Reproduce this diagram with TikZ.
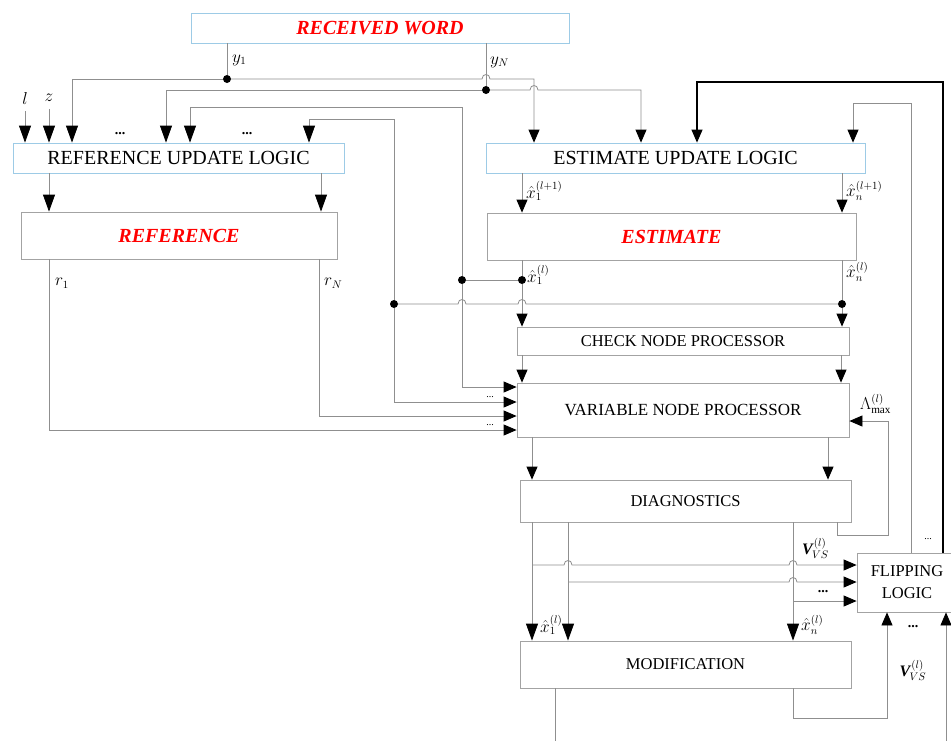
\documentclass[tikz,border=0pt]{standalone}
\usepackage{fontspec}
\setmainfont{Liberation Serif}
\usepackage{tikz}
\usetikzlibrary{arrows.meta, positioning}
\definecolor{wire}{HTML}{8F8F8F}
\definecolor{frame}{HTML}{A3A3A3}
\definecolor{frameblue}{HTML}{9DCBE6}
\definecolor{title}{HTML}{FF0000}
\tikzset{
  blk/.style={rectangle, draw=frame, line width=0.8pt, inner sep=0pt, align=center, font=\fontsize{16.5}{19}\selectfont},
  blublk/.style={blk, draw=frameblue, font=\fontsize{20}{24}\selectfont},
  ttl/.style={font=\fontsize{20}{24}\selectfont\bfseries\itshape, text=title},
  lbl/.style={font=\fontsize{16}{18}\selectfont, inner sep=1pt},
  wr/.style={draw=wire, line width=0.8pt},
  arr/.style={wr, -{Triangle[length=13pt, width=11pt, color=black]}},
  arrl/.style={wr, -{Triangle[length=17pt, width=12pt, color=black]}},
  jn/.style={circle, fill=black, inner sep=0pt, minimum size=8pt},
  dd/.style={font=\fontsize{10}{12}\selectfont, inner sep=0pt},
  bdd/.style={font=\fontsize{14}{14}\selectfont\bfseries, inner sep=0pt},
}

\begin{document}
\begin{tikzpicture}[x=1pt, y=-1pt]
\useasboundingbox (0,0) rectangle (951,740);

% blocks
\node[blublk, ttl, minimum width=378pt, minimum height=30pt] (rw) at (380,28) {RECEIVED WORD};
\node[blublk, minimum width=331pt, minimum height=30pt] (rul) at (178.5,158) {REFERENCE UPDATE LOGIC};
\node[blublk, minimum width=379pt, minimum height=30pt] (eul) at (675.5,158) {ESTIMATE UPDATE LOGIC};
\node[blk, ttl, minimum width=316pt, minimum height=47pt] (ref) at (179,235.5) {REFERENCE};
\node[blk, ttl, minimum width=369pt, minimum height=47pt] (est) at (671.5,236.5) {ESTIMATE};
\node[blk, minimum width=332pt, minimum height=28pt] (cnp) at (683,341) {CHECK NODE PROCESSOR};
\node[blk, font=\fontsize{17}{20}\selectfont, minimum width=332pt, minimum height=54pt] (vnp) at (683,410) {VARIABLE NODE PROCESSOR};
\node[blk, minimum width=331pt, minimum height=42pt] (diag) at (685.5,501) {DIAGNOSTICS};
\node[blk, minimum width=331pt, minimum height=47pt] (mod) at (685.5,664.5) {MODIFICATION};
\node[blk, font=\fontsize{16.5}{22}\selectfont, minimum width=100pt, minimum height=59pt] (flip) at (907,582.5) {FLIPPING\\LOGIC};

% received word
\node[jn] (j1) at (227,79) {};
\node[jn] (j2) at (486,90) {};
\draw[wr] (rw.south -| j1) -- (j1);
\draw[wr] (rw.south -| j2) -- (j2);
\node[lbl, anchor=west] at (231,60) {$y_1$};
\node[lbl, anchor=west] at (489,62) {$y_N$};
\draw[arrl] (j1) -| (rul.north -| 72,0);
\draw[arr] (j1) -- (482,79) .. controls (482,73) and (490,73) .. (490,79) -| (eul.north -| 534,0);
\draw[arrl] (j2) -| (rul.north -| 166,0);
\draw[arr] (j2) -- (530,90) .. controls (530,84) and (538,84) .. (538,90) -| (eul.north -| 641,0);

% reference update logic
\node[lbl] (lin) at (25,98) {$l$};
\node[lbl] (zin) at (49,98) {$z$};
\draw[arrl] (lin.south) ++(0,6) -- (rul.north -| lin);
\draw[arrl] (zin.south) ++(0,6) -- (rul.north -| zin);
\node[bdd] at (120,134) {...};
\node[bdd] at (247,134) {...};
\draw[arrl] (rul.south -| 49,0) -- (ref.north -| 49,0);
\draw[arrl] (rul.south -| 321,0) -- (ref.north -| 321,0);
\node[lbl, anchor=west] at (54,283) {$r_1$};
\node[lbl, anchor=west] at (323,283) {$r_N$};
\draw[arr] (ref.south -| 49,0) |- (vnp.west |- 0,430);
\draw[arr] (ref.south -| 319,0) |- (vnp.west |- 0,416);

% estimate
\draw[arr] (eul.south -| 522,0) -- (est.north -| 522,0);
\draw[arr] (eul.south -| 842,0) -- (est.north -| 842,0);
\node[lbl, anchor=west] at (525,191) {$\hat{x}_1^{(l+1)}$};
\node[lbl, anchor=west] at (845,191) {$\hat{x}_n^{(l+1)}$};
\node[jn] (j3) at (522,280) {};
\node[jn] (j4) at (462,280) {};
\node[jn] (j5) at (842,304) {};
\node[jn] (j6) at (394,304) {};
\node[lbl, anchor=west] at (526,275) {$\hat{x}_1^{(l)}$};
\node[lbl, anchor=west] at (845,272) {$\hat{x}_n^{(l)}$};
\draw[wr] (est.south -| j3) -- (j3);
\draw[wr] (est.south -| j5) -- (j5);
\draw[wr] (j3) -- (j4);
\draw[wr] (j5) -- (526,304) .. controls (526,298) and (518,298) .. (518,304) -- (466,304) .. controls (466,298) and (458,298) .. (458,304) -- (j6);
\draw[arr] (j3) -- (cnp.north -| j3);
\draw[arr] (j5) -- (cnp.north -| j5);
\draw[arrl] (j4) |- (190,107) -- (rul.north -| 190,0);
\draw[arrl] (j6) |- (309,119) -- (rul.north -| 309,0);
\draw[arr] (j4) |- (vnp.west |- 0,387);
\draw[arr] (j6) |- (vnp.west |- 0,402);
\node[dd] at (490,397) {...};
\node[dd] at (490,425) {...};

% processors
\draw[arr] (cnp.south -| 522,0) -- (vnp.north -| 522,0);
\draw[arr] (cnp.south -| 841,0) -- (vnp.north -| 841,0);
\draw[arr] (vnp.south -| 532,0) -- (diag.north -| 532,0);
\draw[arr] (vnp.south -| 828,0) -- (diag.north -| 828,0);
\draw[arr] (diag.south -| 837,0) |- (888,535) |- (vnp.east |- 0,421);
\node[lbl, anchor=west] at (859,404) {$\Lambda_{\max}^{(l)}$};

% diagnostics
\coordinate (b1) at (532,565);
\coordinate (b2) at (568,582);
\coordinate (b3) at (793,601);
\draw[arrl] (diag.south -| b1) -- (mod.north -| b1);
\draw[arrl] (diag.south -| b2) -- (mod.north -| b2);
\draw[arrl] (diag.south -| b3) -- (mod.north -| b3);
\draw[arr] (b1) -- (564,565) .. controls (564,559) and (572,559) .. (572,565) -- (789,565) .. controls (789,559) and (797,559) .. (797,565) -- (flip.west |- b1);
\draw[arr] (b2) -- (789,582) .. controls (789,576) and (797,576) .. (797,582) -- (flip.west |- b2);
\draw[arr] (b3) -- (flip.west |- b3);
\node[lbl, anchor=west] at (801,548) {$\textbf{\textit{V}}_{\!VS}^{(l)}$};
\node[bdd] at (823,592) {...};
\node[lbl, anchor=west] at (539,625) {$\hat{x}_1^{(l)}$};
\node[lbl, anchor=west] at (800,625) {$\hat{x}_n^{(l)}$};

% modification and flipping logic
\coordinate (out) at (555,745);
\coordinate (vin) at (946,745);
\draw[wr] (mod.south -| out) -- (out);
\draw[arr] (mod.south -| 793,0) |- (887,718) -- (flip.south -| 887,0);
\draw[arr] (vin) -- (flip.south -| vin);
\node[bdd] at (913,627) {...};
\node[lbl] at (913,670) {$\textbf{\textit{V}}_{\!VS}^{(l)}$};
\draw[arr, draw=black, line width=1.1pt] (flip.north -| 943,0) |- (697,82) -- (eul.north -| 697,0);
\draw[arr] (flip.north -| 911,0) |- (853,103) -- (eul.north -| 853,0);
\node[dd] at (928,539) {...};
\end{tikzpicture}
\end{document}
